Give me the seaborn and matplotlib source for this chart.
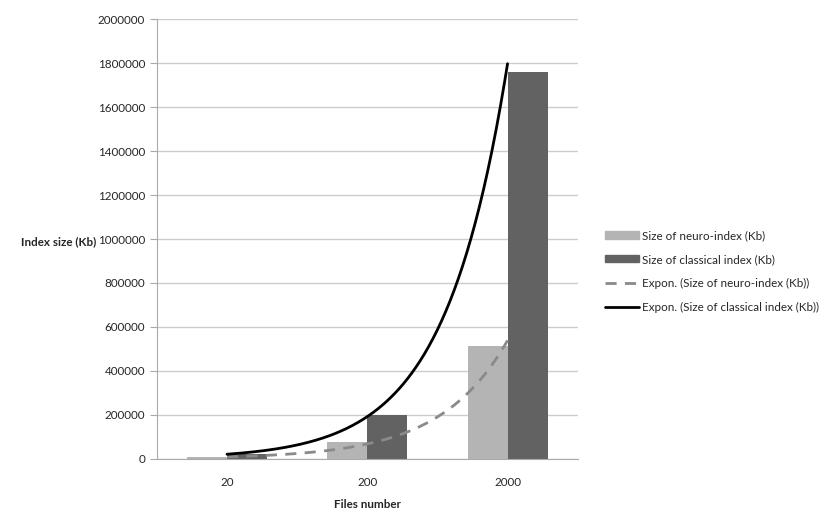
import numpy as np
import pandas as pd
import seaborn as sns
import matplotlib
matplotlib.use('Agg')
import matplotlib.pyplot as plt
from matplotlib.lines import Line2D
from matplotlib.ticker import FuncFormatter, MultipleLocator

# data
files_number = ['20', '200', '2000']
neuro_size = [8000, 74000, 513000]
classical_size = [20000, 200000, 1760000]
series_names = ['Size of neuro-index (Kb)', 'Size of classical index (Kb)']
bar_colors = ['#b4b4b4', '#626262']

df = pd.DataFrame({
    'files': files_number * 2,
    'size': neuro_size + classical_size,
    'series': [series_names[0]] * 3 + [series_names[1]] * 3,
})

sns.set_style('white')
plt.rcParams['font.family'] = ['Lato', 'DejaVu Sans']
fs = 8.4

fig = plt.figure(figsize=(8.3, 5.3), dpi=100)
ax = fig.add_axes([0.189, 0.1345, 0.507, 0.829])

sns.barplot(data=df, x='files', y='size', hue='series', order=files_number,
            hue_order=series_names, palette=bar_colors, width=0.57,
            linewidth=0, saturation=1, ax=ax, legend=False)

# exponential trendlines (Excel style, fitted on category index 1..3)
xs = np.arange(len(files_number))
xx = np.linspace(0, len(files_number) - 1, 200)
def expon(vals):
    b, a = np.polyfit(xs + 1, np.log(vals), 1)
    return np.exp(a + b * (xx + 1))

ax.plot(xx, expon(neuro_size), color='#8a8a8a', lw=2, ls=(0, (4, 3)), zorder=3)
ax.plot(xx, expon(classical_size), color='black', lw=2, zorder=3)

ax.set_xlim(-0.5, 2.5)
ax.set_ylim(0, 2000000)
ax.yaxis.set_major_locator(MultipleLocator(200000))
ax.yaxis.set_major_formatter(FuncFormatter(lambda v, p: '%d' % v))
ax.grid(axis='y', color='#cccccc', lw=1)
ax.set_axisbelow(True)

# ticks between categories like Excel
ax.set_xticks([0.5, 1.5], minor=True)
ax.tick_params(axis='x', which='major', length=0, labelsize=fs, pad=13)
ax.tick_params(axis='x', which='minor', length=5, color='#aaaaaa', direction='out')
ax.tick_params(axis='y', length=5, color='#aaaaaa', direction='out', labelsize=fs, left=True)

for s in ['top', 'right']:
    ax.spines[s].set_visible(False)
for s in ['left', 'bottom']:
    ax.spines[s].set_color('#aaaaaa')

ax.set_xlabel('Files number', fontsize=fs, fontweight='bold', labelpad=8)
ax.set_ylabel('Index size (Kb)', fontsize=fs, fontweight='bold', rotation=0, ha='right', va='center')
ax.yaxis.set_label_coords(-0.145, 0.495)

handles = [
    plt.Rectangle((0, 0), 1, 1, color=bar_colors[0]),
    plt.Rectangle((0, 0), 1, 1, color=bar_colors[1]),
    Line2D([], [], color='#8a8a8a', lw=2, ls=(0, (4, 3))),
    Line2D([], [], color='black', lw=2),
]
labels = series_names + ['Expon. (' + n + ')' for n in series_names]
fig.legend(handles, labels, loc='center left', bbox_to_anchor=(0.716, 0.488), frameon=False,
           fontsize=fs, handlelength=2.9, handleheight=0.6, labelspacing=1.1, handletextpad=0.3)

fig.savefig('out.png', dpi=100)
